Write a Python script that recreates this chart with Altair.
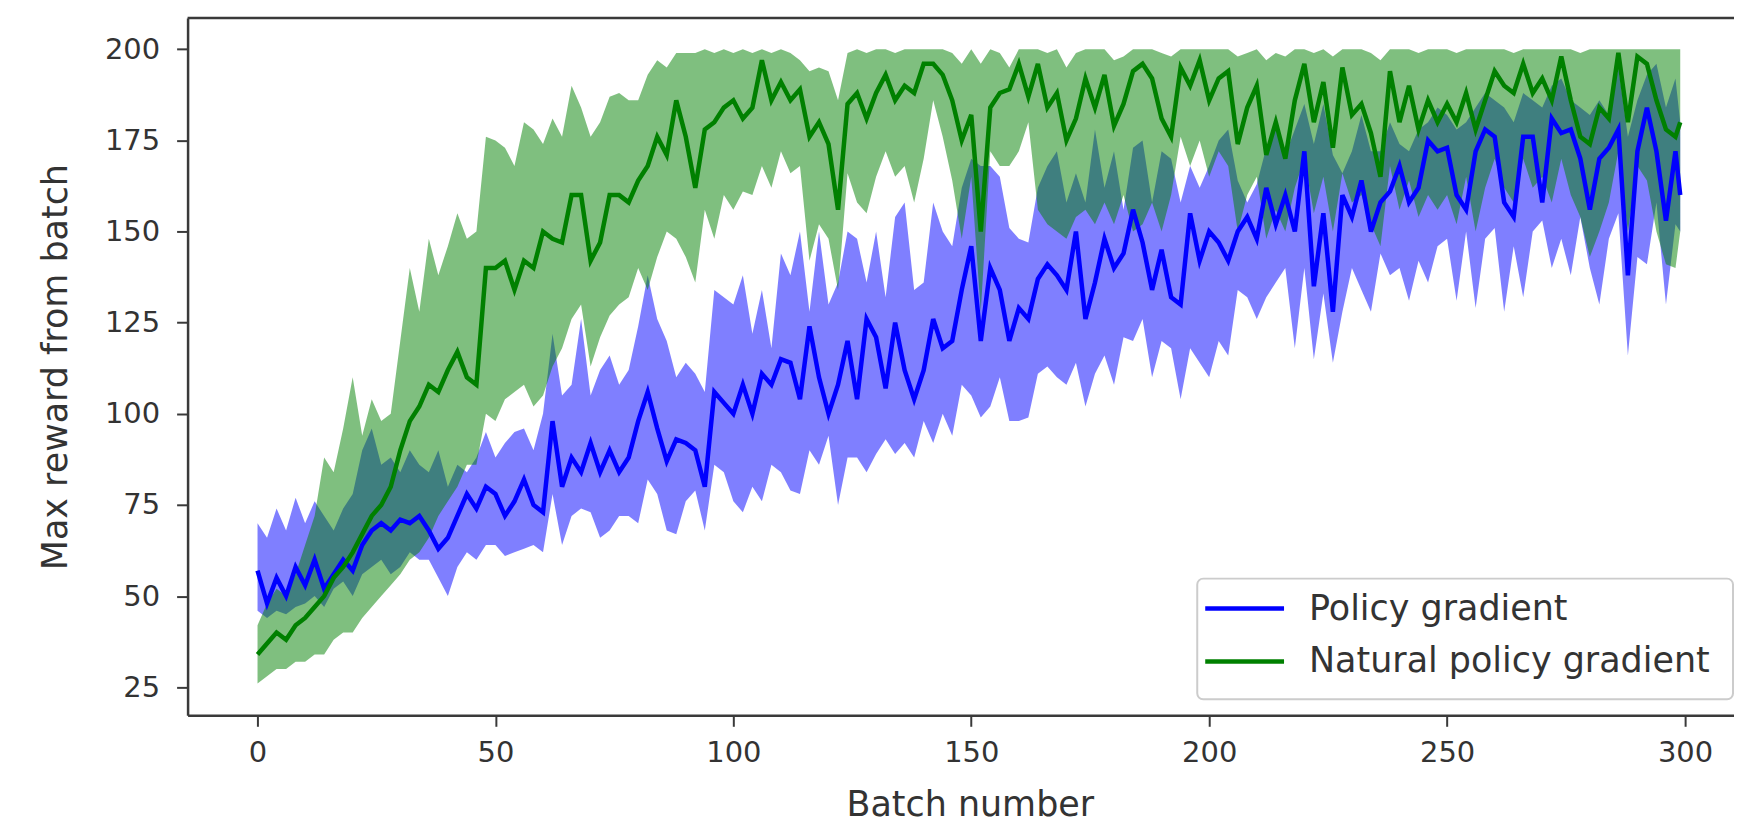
import altair as alt
import pandas as pd

# ---------------- data ----------------
batches = list(range(0, 300, 2)) + [299]
series_names = ["Policy gradient", "Natural policy gradient"]
series_colors = ["#0000ff", "#008000"]
x_ticks = [0, 50, 100, 150, 200, 250, 300]
y_ticks = [25, 50, 75, 100, 125, 150, 175, 200]

pg_mean = [57, 48, 55, 50, 58, 53, 60, 52, 56, 60, 57, 64, 68, 70, 68, 71, 70, 72, 68, 63, 66, 72, 78, 74, 80,
           78, 72, 76, 82, 75, 73, 98, 80, 88, 84, 92, 84, 90, 84, 88, 98, 106, 96, 87, 93, 92, 90, 80, 106, 103,
           100, 108, 100, 111, 108, 115, 114, 104, 124, 110, 100, 108, 120, 104, 126, 121, 107, 125, 112, 104, 112, 126, 118, 120, 134,
           146, 120, 140, 134, 120, 129, 126, 137, 141, 138, 134, 150, 126, 136, 148, 140, 144, 156, 147, 134, 145, 132, 130, 155, 142,
           150, 147, 142, 150, 154, 148, 162, 152, 160, 150, 172, 135, 155, 128, 160, 154, 164, 150, 158, 161, 168, 158, 162, 175, 172,
           173, 160, 156, 172, 178, 176, 158, 154, 176, 176, 158, 181, 177, 178, 170, 156, 170, 173, 178, 138, 172, 184, 172, 153, 172,
           160]
pg_lo = [46, 44, 46, 45, 47, 48, 50, 47, 52, 54, 50, 56, 58, 60, 56, 58, 62, 60, 60, 55, 50, 58, 62, 60, 64,
         64, 61, 62, 63, 64, 62, 78, 64, 72, 74, 73, 66, 68, 72, 72, 70, 82, 78, 68, 67, 76, 79, 68, 86, 84,
         76, 73, 80, 76, 86, 84, 79, 78, 90, 86, 94, 75, 88, 88, 84, 89, 93, 89, 92, 88, 98, 92, 100, 94, 108,
         105, 99, 102, 110, 98, 98, 99, 111, 113, 110, 108, 114, 102, 111, 116, 108, 121, 120, 126, 110, 120, 118, 104, 118, 114,
         110, 120, 116, 134, 132, 126, 132, 136, 140, 118, 140, 115, 133, 114, 128, 140, 134, 128, 144, 138, 140, 131, 142, 136, 146,
         148, 131, 150, 129, 148, 151, 128, 146, 132, 150, 153, 140, 148, 138, 154, 140, 130, 148, 155, 116, 143, 141, 158, 130, 152,
         150]
pg_hi = [70, 66, 74, 68, 77, 70, 76, 72, 68, 74, 78, 90, 96, 86, 88, 84, 90, 86, 84, 90, 80, 86, 84, 88, 95,
         88, 92, 95, 96, 90, 100, 122, 105, 108, 126, 105, 112, 116, 108, 112, 124, 138, 126, 120, 110, 114, 111, 106, 134, 132,
         130, 138, 122, 134, 118, 144, 138, 150, 128, 150, 130, 136, 150, 148, 136, 150, 132, 154, 158, 134, 136, 158, 150, 146, 162,
         170, 168, 168, 165, 151, 148, 147, 162, 168, 172, 158, 166, 158, 178, 162, 172, 156, 173, 175, 158, 172, 170, 158, 168, 162,
         168, 175, 178, 164, 158, 163, 173, 178, 171, 178, 185, 174, 185, 171, 166, 172, 182, 172, 172, 180, 174, 172, 178, 180, 184,
         182, 178, 180, 184, 188, 186, 184, 180, 188, 186, 184, 190, 192, 186, 184, 182, 186, 182, 195, 176, 186, 193, 196, 184, 192,
         180]

npg_mean = [34, 37, 40, 38, 42, 44, 47, 50, 55, 58, 62, 67, 72, 75, 80, 90, 98, 102, 108, 106, 112, 117, 110, 108, 140,
            140, 142, 134, 142, 140, 150, 148, 147, 160, 160, 142, 147, 160, 160, 158, 164, 168, 176, 171, 186, 176, 162, 178, 180, 184,
            186, 181, 184, 197, 186, 191, 186, 189, 176, 180, 174, 156, 185, 188, 181, 188, 193, 186, 190, 188, 196, 196, 193, 186, 175,
            182, 150, 184, 188, 189, 196, 187, 196, 184, 188, 175, 181, 192, 184, 193, 179, 185, 194, 196, 192, 181, 176, 195, 190, 197,
            186, 192, 194, 174, 184, 190, 171, 180, 170, 186, 196, 180, 191, 173, 195, 182, 185, 177, 165, 194, 180, 190, 178, 186, 180,
            185, 180, 188, 178, 186, 194, 190, 188, 196, 188, 192, 186, 198, 186, 176, 174, 184, 181, 199, 180, 198, 196, 186, 178, 176,
            180]
npg_lo = [26, 28, 30, 30, 32, 32, 34, 34, 38, 40, 40, 44, 47, 50, 53, 56, 60, 62, 66, 72, 76, 80, 86, 86, 100,
          98, 104, 106, 108, 102, 105, 113, 118, 126, 130, 113, 121, 127, 130, 132, 140, 134, 143, 150, 148, 143, 136, 156, 148, 160,
          156, 161, 160, 168, 162, 172, 166, 168, 142, 152, 148, 134, 166, 158, 155, 165, 172, 165, 168, 158, 170, 186, 176, 164, 148,
          165, 128, 172, 168, 168, 172, 180, 156, 152, 150, 148, 154, 156, 152, 158, 152, 160, 150, 152, 158, 150, 160, 176, 168, 175,
          165, 172, 168, 150, 160, 165, 148, 156, 150, 162, 170, 155, 165, 150, 166, 158, 160, 152, 146, 168, 156, 164, 154, 160, 156,
          160, 152, 165, 150, 162, 170, 162, 158, 170, 162, 165, 158, 170, 160, 154, 143, 150, 158, 172, 150, 168, 164, 150, 141, 140,
          150]
npg_hi = [42, 48, 52, 50, 56, 64, 72, 88, 84, 96, 110, 94, 104, 98, 100, 120, 140, 128, 148, 138, 146, 155, 148, 150, 176,
          175, 173, 168, 180, 178, 174, 181, 176, 190, 184, 176, 180, 187, 188, 186, 186, 193, 197, 195, 199, 199, 199, 200, 199, 200,
          199, 200, 199, 200, 199, 200, 199, 197, 194, 195, 194, 186, 199, 200, 199, 200, 200, 199, 200, 200, 200, 200, 200, 199, 196,
          200, 196, 200, 199, 195, 200, 200, 200, 199, 200, 195, 199, 200, 200, 200, 197, 198, 200, 200, 200, 199, 198, 200, 200, 200,
          200, 200, 200, 198, 199, 200, 197, 199, 198, 200, 200, 199, 200, 198, 200, 200, 200, 199, 197, 200, 200, 200, 199, 200, 200,
          200, 199, 200, 200, 200, 200, 200, 199, 200, 200, 200, 200, 200, 200, 199, 200, 200, 200, 200, 200, 200, 200, 200, 200, 200,
          200]

pg = pd.DataFrame({"batch": batches, "mean": pg_mean, "lo": pg_lo, "hi": pg_hi})
npg = pd.DataFrame({"batch": batches, "mean": npg_mean, "lo": npg_lo, "hi": npg_hi})
legend_df = pd.DataFrame({"label": series_names})

# ---------------- layout ----------------
W, H = 1550, 699
FONT = "DejaVu Sans"
TXT = "#333333"
FRAME = "#3a3a3a"

xs = alt.Scale(domain=[-14.7, 310.3], nice=False, zero=False)
ys = alt.Scale(domain=[17.3, 208.6], nice=False, zero=False)

x_axis = alt.Axis(values=x_ticks, title="Batch number", labelPadding=12,
                  titleX=784, titleY=89, titleAlign="center", titleBaseline="middle")
y_axis = alt.Axis(values=y_ticks, title="Max reward from batch", labelPadding=17,
                  titleX=-132, titleY=H / 2, titleAngle=270, titleAlign="center",
                  titleBaseline="middle")

X = alt.X("batch:Q", scale=xs, axis=x_axis)

band_pg = alt.Chart(pg).mark_area(color=series_colors[0], fillOpacity=0.5).encode(
    x=X, y=alt.Y("lo:Q", scale=ys, axis=y_axis), y2="hi:Q")
band_npg = alt.Chart(npg).mark_area(color=series_colors[1], fillOpacity=0.5).encode(
    x=X, y=alt.Y("lo:Q", scale=ys, axis=y_axis), y2="hi:Q")
line_pg = alt.Chart(pg).mark_line(color=series_colors[0], strokeWidth=4.5).encode(
    x=X, y=alt.Y("mean:Q", scale=ys, axis=y_axis))
line_npg = alt.Chart(npg).mark_line(color=series_colors[1], strokeWidth=4.5).encode(
    x=X, y=alt.Y("mean:Q", scale=ys, axis=y_axis))

top_frame = alt.Chart(legend_df.head(1)).mark_rule(color=FRAME, strokeWidth=2.5).encode(
    x=alt.value(0), x2=alt.value(W), y=alt.value(0))

# legend (matplotlib-like box, lower right)
leg_box = alt.Chart(legend_df.head(1)).mark_rect(
    fill="white", fillOpacity=0.8, stroke="#cccccc", strokeWidth=2, cornerRadius=6).encode(
    x=alt.value(1012), x2=alt.value(1549), y=alt.value(562), y2=alt.value(683))
leg_layers = []
for i, ypix in enumerate([592, 645]):
    one = legend_df.iloc[[i]]
    leg_layers.append(alt.Chart(one).mark_rule(color=series_colors[i], strokeWidth=4.5).encode(
        x=alt.value(1020), x2=alt.value(1099), y=alt.value(ypix)))
    leg_layers.append(alt.Chart(one).mark_text(
        align="left", baseline="middle", font=FONT, fontSize=35, color=TXT).encode(
        x=alt.value(1124), y=alt.value(ypix), text="label:N"))

chart = alt.layer(band_pg, band_npg, line_pg, line_npg, top_frame, leg_box, *leg_layers).properties(
    width=W, height=H,
    padding={"left": 180, "top": 9, "right": 0, "bottom": 110},
    autosize=alt.AutoSizeParams(type="none"),
    background="white",
).configure_view(stroke=None).configure_axis(
    grid=False, domainColor=FRAME, domainWidth=2.5, tickColor=FRAME, tickWidth=2, tickSize=11,
    labelFont=FONT, labelFontSize=29, labelColor=TXT,
    titleFont=FONT, titleFontSize=35, titleColor=TXT, titleFontWeight="normal",
)

chart.save("out.html", embed_options={"renderer": "svg", "actions": False})
